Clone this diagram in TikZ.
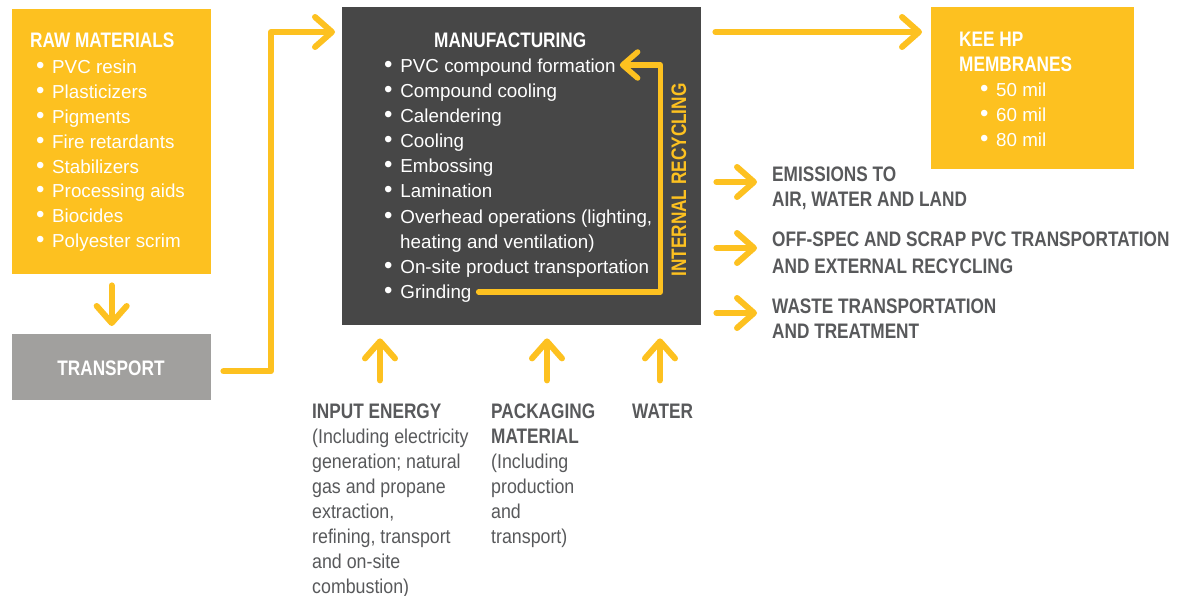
\documentclass[tikz,border=0pt]{standalone}
\usepackage{fontspec}
\setmainfont{Liberation Sans}
\newfontfamily\hb[FakeStretch=0.82]{Liberation Sans}
\newfontfamily\nb[FakeStretch=0.89]{Liberation Sans}
\usetikzlibrary{arrows.meta,calc}
\definecolor{yel}{RGB}{253,193,32}
\definecolor{darkbox}{RGB}{71,71,71}
\definecolor{graybox}{RGB}{161,160,158}
\definecolor{txtg}{RGB}{88,89,91}
\newcommand{\bul}{\makebox[16.2pt][l]{\fontsize{24}{25}\selectfont\textbullet}}
\tikzset{
  box/.style={anchor=north west, inner sep=0pt, draw=none},
  hd/.style={anchor=base west, inner sep=0pt, font=\hb\bfseries\fontsize{21}{25}\selectfont},
  rg/.style={anchor=base west, inner sep=0pt, font=\fontsize{18.8}{25}\selectfont},
  bt/.style={anchor=base west, inner sep=0pt, font=\nb\fontsize{20}{25}\selectfont, text=txtg},
  arr/.style={draw=yel, line width=6pt, line cap=round, line join=round,
    -{Straight Barb[length=17pt,width=30pt,round]}},
  arrs/.style={draw=yel, line width=5.5pt, line cap=round, line join=round,
    -{Straight Barb[length=15pt,width=26pt,round]}},
}
\begin{document}
\begin{tikzpicture}[x=1pt,y=-1pt]
\useasboundingbox (0,0) rectangle (1183,596);
% boxes
\node[box, fill=yel, minimum width=199, minimum height=265] (raw) at (12,9) {};
\node[box, fill=graybox, minimum width=199, minimum height=66] (transport) at (12,334) {};
\node[box, fill=darkbox, minimum width=359, minimum height=318] (mfg) at (342,7) {};
\node[box, fill=yel, minimum width=203, minimum height=162] (kee) at (931,7) {};
% raw materials text
\node[hd, text=white] (rawh) at (30,48) {RAW MATERIALS};
\foreach \t [count=\i from 0] in {{PVC resin}, {Plasticizers}, {Pigments}, {Fire retardants}, {Stabilizers}, {Processing aids}, {Biocides}, {Polyester scrim}}
  \node[rg, text=white] (r\i) at (35.8,{74+24.8*\i}) {\bul\t};
% transport text
\node[hd, text=white, anchor=base] (transt) at (111,375) {TRANSPORT};
% manufacturing text
\node[hd, text=white] (mfgh) at (434,48) {MANUFACTURING};
\node[rg, text=white] (m1) at (384,73) {\bul PVC compound formation};
\node[rg, text=white] (m2) at (384,98) {\bul Compound cooling};
\node[rg, text=white] (m3) at (384,123) {\bul Calendering};
\node[rg, text=white] (m4) at (384,148) {\bul Cooling};
\node[rg, text=white] (m5) at (384,173) {\bul Embossing};
\node[rg, text=white] (m6) at (384,198) {\bul Lamination};
\node[rg, text=white] (m7) at (384,223) {\bul Overhead operations (lighting,};
\node[rg, text=white] (m8) at (400,248) {heating and ventilation)};
\node[rg, text=white] (m9) at (384,273) {\bul On-site product transportation};
\node[rg, text=white] (m10) at (384,298) {\bul Grinding};
\node[hd, text=yel, rotate=90, anchor=center] (intrec) at (679,180) {INTERNAL RECYCLING};
% KEE HP
\node[hd, text=white] (k1) at (959,47) {KEE HP};
\node[hd, text=white] (k2) at (959,72) {MEMBRANES};
\foreach \t [count=\i from 0] in {{50 mil}, {60 mil}, {80 mil}}
  \node[rg, text=white] (kb\i) at (979.8,{97+25*\i}) {\bul\t};
% right outputs
\node[hd, text=txtg] (em1) at (772,182) {EMISSIONS TO};
\node[hd, text=txtg] (em2) at (772,207) {AIR, WATER AND LAND};
\node[hd, text=txtg] (os1) at (772,247) {OFF-SPEC AND SCRAP PVC TRANSPORTATION};
\node[hd, text=txtg] (os2) at (772,273) {AND EXTERNAL RECYCLING};
\node[hd, text=txtg] (ws1) at (772,313) {WASTE TRANSPORTATION};
\node[hd, text=txtg] (ws2) at (772,338) {AND TREATMENT};
% bottom inputs
\node[hd, text=txtg] (ie) at (312,418) {INPUT ENERGY};
\node[bt] (ie1) at (312,443) {(Including electricity};
\node[bt] (ie2) at (312,468) {generation; natural};
\node[bt] (ie3) at (312,493) {gas and propane};
\node[bt] (ie4) at (312,518) {extraction,};
\node[bt] (ie5) at (312,543) {refining, transport};
\node[bt] (ie6) at (312,568) {and on-site};
\node[bt] (ie7) at (312,593) {combustion)};
\node[hd, text=txtg] (pk) at (491,418) {PACKAGING};
\node[hd, text=txtg] (pk1) at (491,443) {MATERIAL};
\node[bt] (pk2) at (491,468) {(Including};
\node[bt] (pk3) at (491,493) {production};
\node[bt] (pk4) at (491,518) {and};
\node[bt] (pk5) at (491,543) {transport)};
\node[hd, text=txtg] (wt) at (632,418) {WATER};
% connectors
\draw[arr] ($(raw.south)+(0,11)$) -- ($(transport.north)+(0,-8)$);
\draw[arr] ($(transport.east)+(12,4)$) -| ($(mfg.north west)+(-71,25)$) -- ($(mfg.north west)+(-7,25)$);
\draw[arr] ($(mfg.north east)+(14,25)$) -- ($(kee.north west)+(-9,25)$);
\draw[arr] ($(mfg.north east)+(15,175)$) -- ($(em1.base west)+(-15,0)$);
\draw[arr] ($(mfg.north east)+(15,241)$) -- ($(os1.base west)+(-15,1)$);
\draw[arr] ($(mfg.north east)+(15,306)$) -- ($(ws1.base west)+(-15,0)$);
\draw[arr] ($(mfg.south west)+(38,55)$) -- ($(mfg.south west)+(38,13)$);
\draw[arr] ($(mfg.south west)+(205,55)$) -- ($(mfg.south west)+(205,13)$);
\draw[arr] ($(mfg.south west)+(318,55)$) -- ($(mfg.south west)+(318,13)$);
\draw[arrs] ($(m10.base east)+(7,-6)$) -| ($(mfg.north east)+(-41,58)$) -- ($(m1.base east)+(4,-8)$);
\end{tikzpicture}
\end{document}
